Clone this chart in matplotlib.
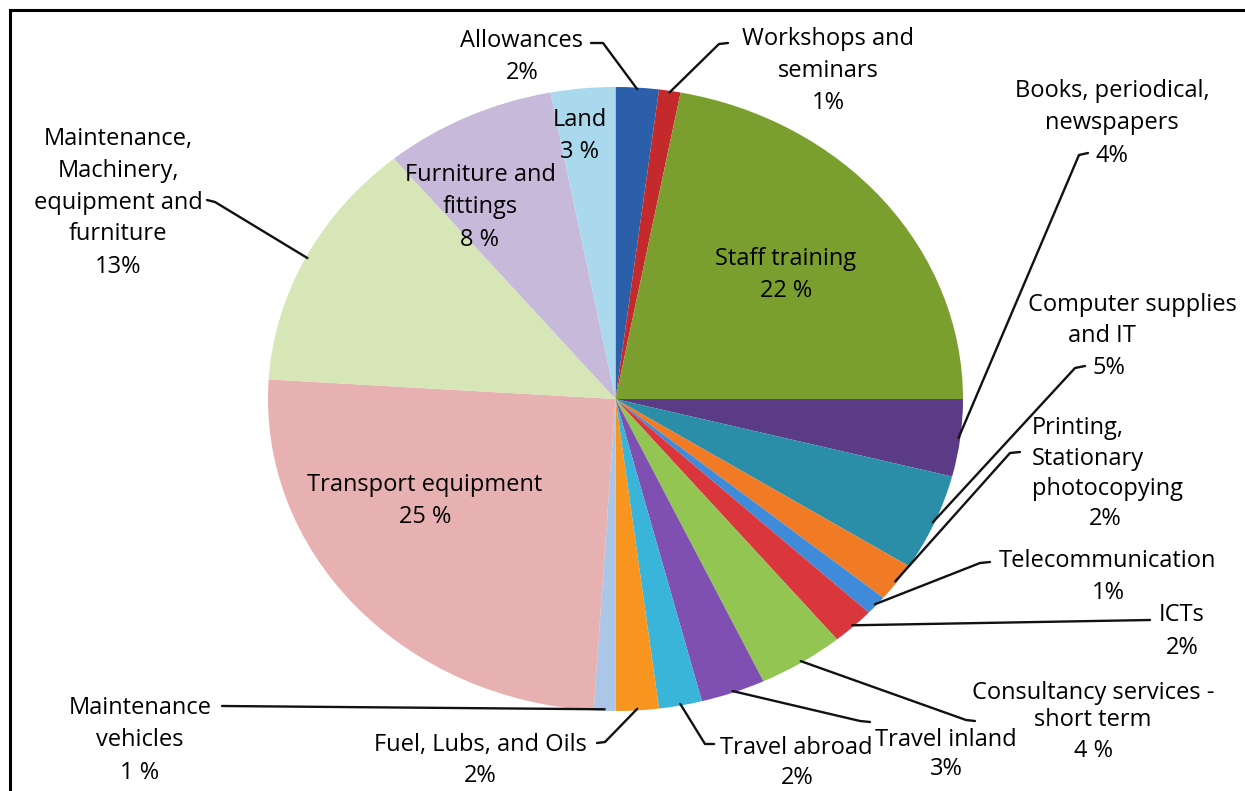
import numpy as np
import matplotlib
matplotlib.use("Agg")
import matplotlib.pyplot as plt
from matplotlib.lines import Line2D

labels = ["Allowances", "Workshops and seminars", "Staff training",
          "Books, periodical, newspapers", "Computer supplies and IT",
          "Printing, Stationary photocopying", "Telecommunication", "ICTs",
          "Consultancy services - short term", "Travel inland", "Travel abroad",
          "Fuel, Lubs, and Oils", "Maintenance vehicles", "Transport equipment",
          "Maintenance, Machinery, equipment and furniture",
          "Furniture and fittings", "Land"]
values = [2, 1, 22, 4, 5, 2, 1, 2, 4, 3, 2, 2, 1, 25, 13, 8, 3]
colors = ["#2b5fa9", "#c42a2c", "#7b9f2f", "#5c3b86", "#2a8ea9", "#f07b24",
          "#3f8bd9", "#d9373b", "#93c552", "#7f4fb1", "#38b5d8", "#f7951e",
          "#abc6e7", "#e8b1b1", "#d7e6b7", "#c7b9da", "#aad9ed"]

W, H = 1245, 791
# pie box in pixels
cx, cy, rx, ry = 615.5, 399, 347.5, 312

plt.rcParams['font.family'] = ['Open Sans', 'DejaVu Sans']
fig = plt.figure(figsize=(W / 100, H / 100), dpi=100)
ax = fig.add_axes([(cx - rx) / W, (H - cy - ry) / H, 2 * rx / W, 2 * ry / H])
ax.pie(values, colors=colors, startangle=90, counterclock=False,
       wedgeprops=dict(linewidth=0))
ax.set_aspect('auto')
ax.set_xlim(-1, 1)
ax.set_ylim(-1, 1)
ax.axis('off')


def px(x, y):
    return (x - cx) / rx, (cy - y) / ry


cum = np.cumsum([0] + values[:-1])


def edge(i, r=0.995):
    a = np.deg2rad(90 - 360 * (cum[i] + values[i] / 2) / 100)
    return r * np.cos(a), r * np.sin(a)


fs = 17


def put(lines, ha='center'):
    # lines: list of (text, x, y) in pixels
    for t, x, y in lines:
        ax.text(*px(x, y + 3), t, ha=ha, va='center', fontsize=fs, clip_on=False)


# labels inside the slices
put([("Land", 580, 117), ("3 %", 580, 149)])
put([("Furniture and", 480, 172), ("fittings", 480, 204), ("8 %", 480, 237)])
put([("Staff training", 786, 256), ("22 %", 786, 288)])
put([("Transport equipment", 425, 482), ("25 %", 425, 514)])

# outside labels
put([("Allowances", 522, 38), ("2%", 522, 70)])
put([("Workshops and", 828, 36), ("seminars", 828, 68), ("1%", 828, 100)])
put([("Books, periodical,", 1112, 88), ("newspapers", 1112, 120), ("4%", 1112, 153)])
put([("Computer supplies", 1132, 302), ("and IT", 1102, 333), ("5%", 1109, 365)])
put([("Printing,", 1032, 425), ("Stationary", 1032, 456), ("photocopying", 1032, 486)], ha='left')
put([("2%", 1105, 516)])
put([("Telecommunication", 1107, 558), ("1%", 1108, 590)])
put([("ICTs", 1182, 612), ("2%", 1182, 645)])
put([("Consultancy services -", 1093, 690), ("short term", 1093, 717), ("4 %", 1093, 748)])
put([("Travel inland", 946, 737), ("3%", 946, 766)])
put([("Travel abroad", 796, 745), ("2%", 797, 775)])
put([("Fuel, Lubs, and Oils", 480, 742), ("2%", 480, 773)])
put([("Maintenance", 140, 705), ("vehicles", 140, 737), ("1 %", 140, 770)])
put([("Maintenance,", 118, 136), ("Machinery,", 118, 168), ("equipment and", 118, 200),
     ("furniture", 118, 231), ("13%", 118, 264)])

# leader lines: line start near the text, elbow, then to slice edge
leaders = {
    "Allowances": ((591, 43), (603, 43)),
    "Workshops and seminars": ((728, 43), (719, 44)),
    "Books, periodical, newspapers": ((1088, 153), (1079, 155)),
    "Computer supplies and IT": ((1085, 366), (1075, 368)),
    "Printing, Stationary photocopying": ((1020, 452), (1010, 453)),
    "Telecommunication": ((990, 562), (980, 563)),
    "ICTs": ((1150, 620), (1150, 620)),
    "Consultancy services - short term": ((975, 721), (966, 720)),
    "Travel inland": ((870, 722), (860, 721)),
    "Travel abroad": ((714, 744), (705, 744)),
    "Fuel, Lubs, and Oils": ((597, 743), (605, 742)),
    "Maintenance vehicles": ((222, 706), (222, 706)),
    "Maintenance, Machinery, equipment and furniture": ((207, 200), (215, 202)),
}
for k, (start, elbow) in leaders.items():
    i = labels.index(k)
    ex, ey = edge(i)
    sx, sy = px(*start)
    bx, by = px(*elbow)
    ax.plot([sx, bx, ex], [sy, by, ey], color='#111111', lw=1.7,
            clip_on=False, solid_capstyle='round')

# frame (left and top borders)
fig.add_artist(Line2D([9.5 / W, 9.5 / W], [0, 1 - 9.5 / H], color='black',
                      lw=2.2, transform=fig.transFigure))
fig.add_artist(Line2D([9.5 / W, 1], [1 - 9.5 / H, 1 - 9.5 / H], color='black',
                      lw=2.2, transform=fig.transFigure))

fig.savefig("out.png", dpi=100)
